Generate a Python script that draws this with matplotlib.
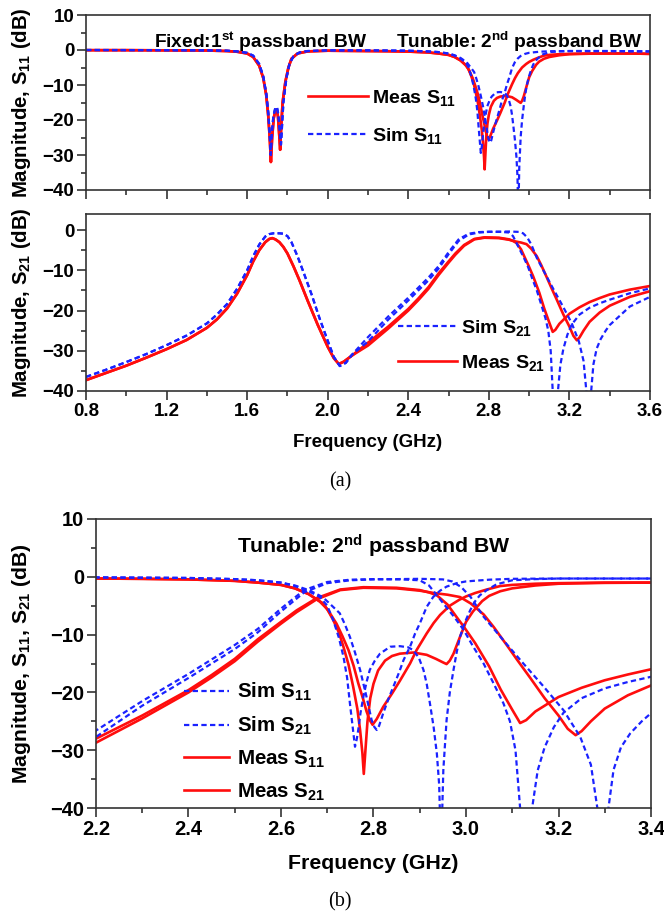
import numpy as np
import matplotlib
matplotlib.use("Agg")
import matplotlib.pyplot as plt
from matplotlib.lines import Line2D
from matplotlib.ticker import MultipleLocator

plt.rcParams['font.family'] = ['Liberation Sans', 'DejaVu Sans']
plt.rcParams['font.weight'] = 'bold'
plt.rcParams['mathtext.fontset'] = 'custom'
plt.rcParams['mathtext.rm'] = 'Liberation Sans:bold'
plt.rcParams['mathtext.bf'] = 'Liberation Sans:bold'
plt.rcParams['mathtext.it'] = 'Liberation Sans:bold'
plt.rcParams['mathtext.default'] = 'bf'

# ---------------- data ----------------
# first passband (fixed), shared by both tuning states
f_s11_meas_lo = [0.8, 1.0, 1.2, 1.4, 1.5, 1.55, 1.6, 1.63, 1.66, 1.68, 1.695, 1.705, 1.712, 1.718,
                 1.724, 1.732, 1.74, 1.747, 1.753, 1.759, 1.764, 1.769, 1.776, 1.79, 1.805, 1.82,
                 1.85, 1.9, 2.0, 2.1]
s11_meas_lo = [-0.05, -0.05, -0.1, -0.15, -0.3, -0.5, -1.0, -2.0, -4.5, -8.0, -13.0, -19.0, -25.0, -32.0,
               -25.0, -19.5, -17.2, -17.0, -19.0, -24.0, -28.5, -22.0, -15.0, -9.0, -5.0, -2.5,
               -1.0, -0.4, -0.2, -0.25]
f_s11_sim_lo = [0.8, 1.2, 1.4, 1.5, 1.55, 1.6, 1.63, 1.66, 1.68, 1.695, 1.705, 1.712, 1.717, 1.722,
                1.73, 1.74, 1.748, 1.755, 1.762, 1.768, 1.773, 1.78, 1.795, 1.81, 1.83, 1.86, 1.9,
                2.0, 2.1]
s11_sim_lo = [0.0, -0.05, -0.1, -0.2, -0.4, -0.8, -1.6, -4.0, -7.5, -12.5, -18.0, -24.0, -30.0, -24.0,
              -19.0, -16.5, -16.3, -18.5, -23.0, -27.0, -22.0, -15.0, -8.0, -4.0, -1.8, -0.7, -0.3,
              -0.1, -0.1]
f_s21_meas_lo = [0.8, 0.9, 1.0, 1.1, 1.2, 1.3, 1.4, 1.45, 1.5, 1.55, 1.6, 1.63, 1.66, 1.69, 1.71,
                 1.725, 1.74, 1.76, 1.78, 1.8, 1.83, 1.86, 1.9, 1.95, 2.0, 2.03, 2.055, 2.08, 2.12]
s21_meas_lo = [-37.3, -35.5, -33.7, -31.7, -29.6, -27.3, -24.3, -22.2, -19.5, -15.8, -11.2, -7.8, -5.0,
               -3.0, -2.2, -2.0, -2.3, -3.0, -4.2, -5.8, -9.0, -12.5, -17.5, -23.5, -29.0, -31.8,
               -33.3, -32.7, -31.2]
f_s21_sim_lo = [0.8, 0.9, 1.0, 1.1, 1.2, 1.3, 1.4, 1.45, 1.5, 1.55, 1.6, 1.63, 1.66, 1.69, 1.71,
                1.73, 1.76, 1.78, 1.8, 1.82, 1.85, 1.88, 1.92, 1.96, 2.0, 2.03, 2.06, 2.09, 2.12]
s21_sim_lo = [-36.5, -34.7, -32.8, -30.8, -28.6, -26.2, -23.2, -21.0, -18.4, -14.6, -10.0, -6.5, -3.6,
              -1.6, -1.0, -0.8, -0.8, -0.9, -1.5, -3.0, -6.5, -10.5, -16.0, -22.0, -27.5, -31.5,
              -33.8, -33.0, -31.0]

# second passband (tunable), state A and state B
f_s11_meas_a = [2.2, 2.3, 2.4, 2.5, 2.55, 2.6, 2.63, 2.66, 2.684, 2.70, 2.713, 2.725, 2.735, 2.746,
                2.756, 2.765, 2.771, 2.776, 2.779, 2.783, 2.787, 2.793, 2.80, 2.81, 2.825, 2.84,
                2.857, 2.886, 2.915, 2.935, 2.95, 2.958, 2.965, 2.973, 2.987, 3.0, 3.015, 3.035,
                3.05, 3.074, 3.1, 3.15, 3.2, 3.3, 3.4, 3.5, 3.6]
s11_meas_a = [-0.3, -0.35, -0.45, -0.7, -1.0, -1.4, -2.0, -3.0, -4.3, -5.6, -7.5, -9.6, -12.1, -15.2,
              -19.0, -22.8, -26.5, -30.5, -34.1, -29.5, -25.0, -21.0, -18.5, -16.2, -14.5, -13.7,
              -13.3, -13.1, -13.5, -14.2, -14.8, -15.1, -14.5, -13.3, -10.4, -7.8, -6.0, -4.2,
              -3.3, -2.5, -2.0, -1.5, -1.2, -1.05, -1.0, -1.0, -1.1]
f_s11_meas_b = [2.2, 2.3, 2.4, 2.5, 2.55, 2.6, 2.63, 2.66, 2.691, 2.705, 2.72, 2.733, 2.746, 2.757,
                2.767, 2.777, 2.785, 2.792, 2.798, 2.807, 2.821, 2.84, 2.857, 2.879, 2.893, 2.915,
                2.93, 2.944, 2.965, 2.985, 3.0, 3.02, 3.045, 3.074, 3.1, 3.15, 3.2, 3.3, 3.4, 3.5, 3.6]
s11_meas_b = [-0.3, -0.35, -0.45, -0.7, -1.0, -1.4, -2.0, -3.0, -4.6, -6.2, -8.1, -10.3, -12.7, -15.4,
              -18.4, -21.0, -23.3, -24.8, -25.6, -24.6, -22.5, -20.2, -18.0, -15.0, -12.7, -9.8,
              -8.0, -6.6, -5.0, -4.0, -3.4, -2.8, -2.2, -1.6, -1.4, -1.2, -1.1, -1.0, -1.0, -1.0, -1.1]
f_s11_sim_a = [2.2, 2.3, 2.4, 2.5, 2.55, 2.6, 2.63, 2.66, 2.684, 2.70, 2.713, 2.725, 2.735, 2.743,
               2.749, 2.755, 2.760, 2.764, 2.767, 2.772, 2.778, 2.785, 2.792, 2.803, 2.814, 2.836,
               2.857, 2.875, 2.886, 2.898, 2.908, 2.915, 2.922, 2.93, 2.937, 2.942, 2.946, 2.951,
               2.958, 2.965, 2.973, 2.98, 2.987, 2.998, 3.009, 3.02, 3.03, 3.045, 3.066, 3.1, 3.15,
               3.2, 3.4, 3.6]
s11_sim_a = [-0.1, -0.15, -0.2, -0.4, -0.6, -1.0, -1.6, -2.5, -3.5, -5.0, -7.5, -10.5, -13.8, -17.5,
             -21.9, -26.0, -29.4, -28.0, -26.5, -23.5, -20.8, -18.2, -16.1, -14.5, -13.3, -12.1,
             -12.0, -12.2, -12.7, -14.0, -16.1, -18.5, -21.9, -26.0, -30.6, -36.0, -48.0, -33.4,
             -24.8, -20.0, -16.1, -13.0, -10.4, -7.8, -5.8, -4.2, -3.2, -2.3, -1.3, -0.6, -0.4,
             -0.3, -0.3, -0.4]
f_s11_sim_b = [2.2, 2.3, 2.4, 2.5, 2.55, 2.6, 2.63, 2.66, 2.69, 2.71, 2.727, 2.738, 2.749, 2.76,
               2.771, 2.785, 2.796, 2.802, 2.807, 2.812, 2.821, 2.832, 2.843, 2.855, 2.865, 2.879,
               2.89, 2.9, 2.915, 2.929, 2.944, 2.958, 2.98, 3.0, 3.05, 3.1, 3.2, 3.4, 3.6]
s11_sim_b = [-0.1, -0.15, -0.2, -0.4, -0.6, -1.0, -1.5, -2.3, -3.5, -5.0, -6.3, -8.2, -10.4, -13.1,
             -16.1, -20.8, -24.8, -26.0, -26.5, -25.8, -23.6, -21.2, -19.0, -16.6, -14.4, -12.1,
             -9.8, -8.1, -5.2, -3.5, -2.4, -1.7, -1.1, -0.8, -0.5, -0.35, -0.3, -0.3, -0.4]

f_s21_meas_a = [2.2, 2.3, 2.4, 2.45, 2.5, 2.55, 2.6, 2.634, 2.677, 2.728, 2.778, 2.85, 2.9, 2.92,
                2.937, 2.96, 2.98, 2.995, 3.02, 3.05, 3.075, 3.1, 3.117, 3.13, 3.15, 3.2, 3.25,
                3.3, 3.35, 3.4, 3.5, 3.6]
s21_meas_a = [-28.0, -24.0, -19.6, -17.0, -14.2, -10.8, -7.8, -5.8, -3.7, -2.2, -1.8, -1.9, -2.3, -2.7,
              -3.2, -4.8, -7.0, -8.6, -11.5, -15.5, -19.5, -23.0, -25.3, -24.8, -23.3, -20.8, -19.2,
              -17.9, -16.9, -16.0, -14.8, -13.9]
f_s21_meas_b = [2.2, 2.3, 2.4, 2.45, 2.5, 2.55, 2.6, 2.634, 2.677, 2.728, 2.778, 2.85, 2.9, 2.93,
                2.96, 2.987, 3.01, 3.038, 3.06, 3.088, 3.11, 3.139, 3.17, 3.2, 3.22, 3.237, 3.25,
                3.27, 3.3, 3.35, 3.4, 3.5, 3.6]
s21_meas_b = [-28.7, -24.5, -20.0, -17.4, -14.6, -11.2, -8.1, -6.1, -3.9, -2.3, -1.9, -2.0, -2.4, -2.8,
              -3.1, -3.5, -4.6, -6.5, -8.7, -11.8, -14.3, -17.5, -21.0, -24.0, -26.3, -27.4, -26.7,
              -25.0, -22.8, -20.5, -18.8, -16.6, -15.2]
f_s21_sim_a = [2.2, 2.3, 2.4, 2.5, 2.55, 2.6, 2.65, 2.7, 2.75, 2.8, 2.86, 2.9, 2.92, 2.951, 2.975,
               2.995, 3.015, 3.038, 3.06, 3.081, 3.095, 3.107, 3.117, 3.13, 3.143, 3.155, 3.17,
               3.19, 3.211, 3.25, 3.3, 3.35, 3.4, 3.5, 3.6]
s21_sim_a = [-26.6, -21.5, -16.8, -11.8, -9.0, -5.5, -2.3, -0.9, -0.5, -0.4, -0.45, -0.6, -1.5, -4.6,
             -7.0, -9.2, -12.0, -15.0, -18.5, -21.9, -25.0, -30.0, -40.0, -55.0, -40.0, -33.5,
             -29.5, -26.0, -23.5, -21.0, -19.3, -18.2, -17.3, -15.7, -14.5]
f_s21_sim_b = [2.2, 2.3, 2.4, 2.5, 2.55, 2.6, 2.65, 2.7, 2.75, 2.8, 2.9, 2.95, 2.97, 2.99, 3.01,
               3.038, 3.081, 3.124, 3.168, 3.211, 3.247, 3.27, 3.284, 3.296, 3.308, 3.319, 3.335,
               3.355, 3.38, 3.4, 3.5, 3.6]
s21_sim_b = [-27.7, -22.3, -17.5, -12.5, -9.6, -6.0, -2.7, -1.1, -0.6, -0.45, -0.35, -0.45, -0.8,
             -1.8, -3.5, -6.9, -11.0, -15.0, -19.0, -23.1, -27.7, -32.5, -40.0, -55.0, -40.0, -33.4,
             -29.5, -27.1, -25.0, -23.6, -19.0, -16.6]

RED = '#ff0d0d'
BLUE = '#1a22ff'
DASH = (0, (2.4, 1.5))


def series(f_lo, v_lo, f_hi, v_hi):
    return np.array(f_lo + f_hi), np.array(v_lo + v_hi)


meas_s11 = [series(f_s11_meas_lo, s11_meas_lo, f_s11_meas_a, s11_meas_a),
            series(f_s11_meas_lo, s11_meas_lo, f_s11_meas_b, s11_meas_b)]
sim_s11 = [series(f_s11_sim_lo, s11_sim_lo, f_s11_sim_a, s11_sim_a),
           series(f_s11_sim_lo, s11_sim_lo, f_s11_sim_b, s11_sim_b)]
meas_s21 = [series(f_s21_meas_lo, s21_meas_lo, f_s21_meas_a, s21_meas_a),
            series(f_s21_meas_lo, s21_meas_lo, f_s21_meas_b, s21_meas_b)]
sim_s21 = [series(f_s21_sim_lo, s21_sim_lo, f_s21_sim_a, s21_sim_a),
           series(f_s21_sim_lo, s21_sim_lo, f_s21_sim_b, s21_sim_b)]

W, H = 664, 918
fig = plt.figure(figsize=(W / 100, H / 100), dpi=100)


def add_ax(l, t, r, b):
    return fig.add_axes([l / W, 1 - b / H, (r - l) / W, (b - t) / H])


def px(x, y):
    """pixel position (from top-left) -> figure fraction"""
    return x / W, 1 - y / H


ax1 = add_ax(86, 15, 650, 190)
ax2 = add_ax(86, 214, 650, 391)
ax3 = add_ax(96, 519, 651, 808)

LW_R = 1.9
LW_B = 1.6


def style(ax, xlim, ylim, xmaj, xmin, fs, showx=True):
    ax.set_xlim(*xlim)
    ax.set_ylim(*ylim)
    ax.xaxis.set_major_locator(MultipleLocator(xmaj))
    ax.xaxis.set_minor_locator(MultipleLocator(xmin))
    ax.yaxis.set_major_locator(MultipleLocator(10))
    ax.yaxis.set_minor_locator(MultipleLocator(5))
    ax.tick_params(which='major', direction='out', length=6.5, width=1.1, labelsize=fs, pad=2,
                   color='#222222')
    ax.tick_params(which='minor', direction='out', length=3.6, width=1.1, color='#222222')
    ax.tick_params(top=False, right=False, which='both')
    for s in ax.spines.values():
        s.set_linewidth(1.2)
        s.set_color('#333333')
    if not showx:
        ax.tick_params(axis='x', labelbottom=False)


FS_TICK_A = 13.5
FS_TICK_B = 14.5

# ---- panel (a) top: S11
for f, v in meas_s11:
    ax1.plot(f, v, color=RED, lw=LW_R)
for f, v in sim_s11:
    ax1.plot(f, v, color=BLUE, lw=LW_B, ls=DASH)
style(ax1, (0.8, 3.6), (-40, 10), 0.4, 0.2, FS_TICK_A, showx=False)
ax1.set_ylabel('Magnitude, S$_{11}$ (dB)', fontsize=14.7, fontweight='bold')
ax1.yaxis.set_label_coords(-0.094, 0.5)
fig.text(*px(154, 42), 'Fixed:1$^{st}$ passband BW', fontsize=13.8, fontweight='bold',
         va='center', ha='left')
fig.text(*px(396, 42), 'Tunable: 2$^{nd}$ passband BW', fontsize=13.8, fontweight='bold',
         va='center', ha='left')

# ---- panel (a) bottom: S21
for f, v in meas_s21:
    ax2.plot(f, v, color=RED, lw=LW_R)
for f, v in sim_s21:
    ax2.plot(f, v, color=BLUE, lw=LW_B, ls=DASH)
style(ax2, (0.8, 3.6), (-40, 4), 0.4, 0.2, FS_TICK_A)
ax2.set_xticks([0.8, 1.2, 1.6, 2.0, 2.4, 2.8, 3.2, 3.6])
ax2.set_xticklabels(['0.8', '1.2', '1.6', '2.0', '2.4', '2.8', '3.2', '3.6'])
ax2.set_ylabel('Magnitude, S$_{21}$ (dB)', fontsize=14.7, fontweight='bold')
ax2.yaxis.set_label_coords(-0.094, 0.5)
ax2.set_xlabel('Frequency (GHz)', fontsize=13.5, fontweight='bold')
ax2.xaxis.set_label_coords(0.5, -0.245)

# ---- panel (b): zoom on the second passband
for f, v in meas_s11 + meas_s21:
    ax3.plot(f, v, color=RED, lw=LW_R)
for f, v in sim_s11 + sim_s21:
    ax3.plot(f, v, color=BLUE, lw=LW_B, ls=DASH)
style(ax3, (2.2, 3.4), (-40, 10), 0.2, 0.1, FS_TICK_B)
ax3.set_xticks([2.2, 2.4, 2.6, 2.8, 3.0, 3.2, 3.4])
ax3.set_xticklabels(['2.2', '2.4', '2.6', '2.8', '3.0', '3.2', '3.4'])
ax3.set_ylabel('Magnitude, S$_{11}$, S$_{21}$ (dB)', fontsize=15.2, fontweight='bold')
ax3.yaxis.set_label_coords(-0.1135, 0.5)
ax3.set_xlabel('Frequency (GHz)', fontsize=15.3, fontweight='bold')
ax3.xaxis.set_label_coords(0.5, -0.16)
fig.text(*px(237, 546), 'Tunable: 2$^{nd}$ passband BW', fontsize=15.3, fontweight='bold',
         va='center', ha='left')

for ax in (ax1, ax2, ax3):
    for lab in ax.get_xticklabels() + ax.get_yticklabels():
        lab.set_fontweight('bold')

# ---- legends
h_meas = Line2D([], [], color=RED, lw=LW_R)
h_sim = Line2D([], [], color=BLUE, lw=LW_B, ls=DASH)

ax1.legend([h_meas, h_sim], ['Meas S$_{11}$', 'Sim S$_{11}$'], loc='upper left',
           bbox_to_anchor=px(308, 88), bbox_transform=fig.transFigure,
           frameon=False, fontsize=14, handlelength=3.1, handletextpad=0.2,
           labelspacing=0.9, borderpad=0, borderaxespad=0)
ax2.legend([h_sim, h_meas], ['Sim S$_{21}$', 'Meas S$_{21}$'], loc='upper left',
           bbox_to_anchor=px(398, 318), bbox_transform=fig.transFigure,
           frameon=False, fontsize=14, handlelength=3.05, handletextpad=0.2,
           labelspacing=0.78, borderpad=0, borderaxespad=0)
ax3.legend([h_sim, h_sim, h_meas, h_meas],
           ['Sim S$_{11}$', 'Sim S$_{21}$', 'Meas S$_{11}$', 'Meas S$_{21}$'],
           loc='upper left', bbox_to_anchor=px(184, 681),
           bbox_transform=fig.transFigure, frameon=False, fontsize=14.8,
           handlelength=2.2, handletextpad=0.4, labelspacing=0.56, borderpad=0,
           borderaxespad=0)

fig.text(*px(340, 482), '(a)', family='Liberation Serif', fontweight='normal',
         fontsize=14.5, ha='center', va='center')
fig.text(*px(340, 902), '(b)', family='Liberation Serif', fontweight='normal',
         fontsize=14.5, ha='center', va='center')

fig.savefig('out.png', dpi=100, facecolor='white')
